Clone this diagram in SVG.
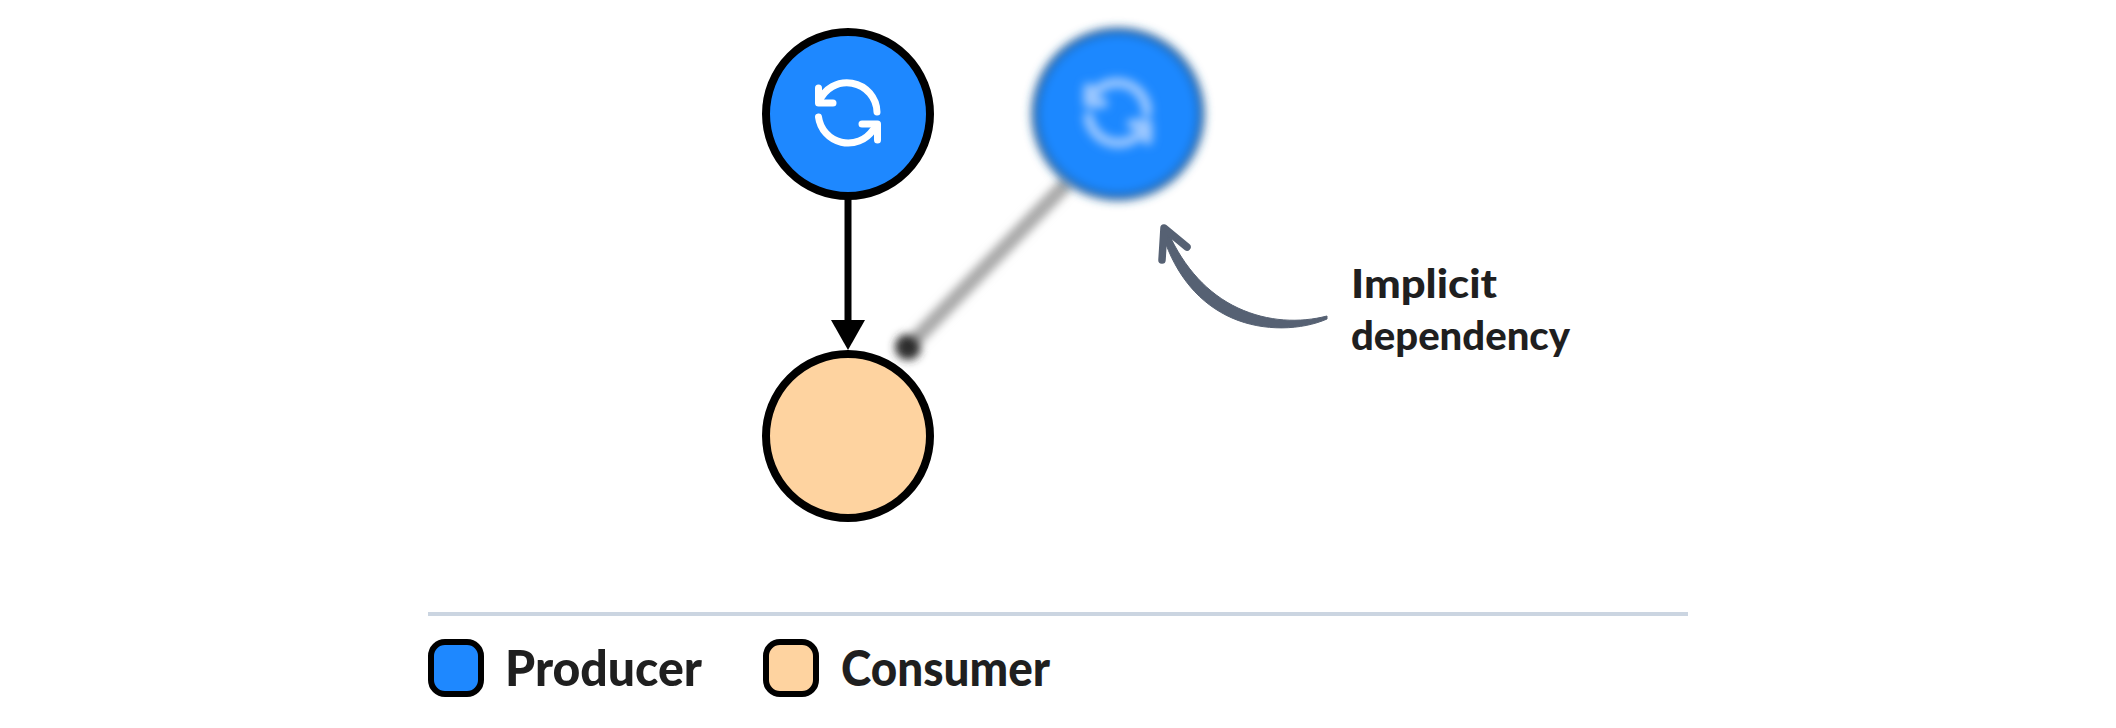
<svg xmlns="http://www.w3.org/2000/svg" width="2116" height="728" viewBox="0 0 2116 728">
<style>
.node{stroke:#000;stroke-width:8}
.blue{fill:#1e88ff}
.peach{fill:#fed3a0}
.key{stroke:#000;stroke-width:6}
.lbl{font-family:"Lato","Noto Sans","Liberation Sans",sans-serif;font-weight:900;fill:#1f1f1f}
.icon{fill:none;stroke:#fff;stroke-width:7;stroke-linecap:round;stroke-linejoin:round}
.ghost{fill:none;stroke:#9cc8ff;stroke-width:10;stroke-linecap:round;stroke-linejoin:round}
</style>
<defs>
<filter id="blur" x="-30%" y="-30%" width="160%" height="160%"><feGaussianBlur stdDeviation="5"/></filter>
<filter id="blurIcon" filterUnits="userSpaceOnUse" x="1050" y="50" width="140" height="130"><feGaussianBlur stdDeviation="5"/></filter>
<filter id="blurLine" filterUnits="userSpaceOnUse" x="870" y="150" width="230" height="230"><feGaussianBlur stdDeviation="4"/></filter>
<g id="refresh"><path class="icon" d="M819 102A30 30 0 0 1 877 112"/><path class="icon" d="M818.500 117A30 30 0 0 0 873 130"/><path class="icon" d="M818.500 88V103H833"/><path class="icon" d="M877.500 140V124H862"/></g>
</defs>
<g id="connectors">
<path d="M848 198V322" stroke="#000" stroke-width="7" fill="none"/>
<path d="M831 320H865L848 350Z" fill="#000"/>
<g filter="url(#blurLine)">
<path d="M1068 182L908 347" stroke="#aaa" stroke-width="15" fill="none"/>
<circle cx="908" cy="347" r="13" fill="#2f2f2f"/>
</g>
<path d="M1327 316C1300 323 1268 322 1238 308C1208 294 1184 268 1168 232L1163 236C1176 276 1200 304 1232 318C1264 332 1302 330 1327 319Z" fill="#566173" stroke="#566173" stroke-width="1" stroke-linejoin="round"/>
<path d="M1162 260L1164 228L1187 247" fill="none" stroke="#566173" stroke-width="7.500" stroke-linecap="round" stroke-linejoin="round"/>
</g>
<g id="producer"><circle class="node blue" cx="848" cy="114" r="82"/><use href="#refresh"/></g>
<g id="producer-blurred"><circle cx="1118" cy="114" r="83" fill="#1e88ff" stroke="#23609f" stroke-width="7" filter="url(#blur)"/><g filter="url(#blurIcon)"><path class="ghost" d="M1089 102A30 30 0 0 1 1147 112M1088.500 117A30 30 0 0 0 1143 130M1088.500 88V103H1103M1147.500 140V124H1132"/></g></g>
<g id="consumer"><circle class="node peach" cx="848" cy="436" r="82"/></g>
<g id="annotation"><text class="lbl" font-size="40" x="1351" y="298" textLength="146" lengthAdjust="spacingAndGlyphs">Implicit</text><text class="lbl" font-size="40" x="1351" y="350" textLength="219" lengthAdjust="spacingAndGlyphs">dependency</text></g>
<g id="legend">
<path d="M428 614H1688" stroke="#cbd5e1" stroke-width="4" fill="none"/>
<rect class="blue key" x="431" y="642" width="50" height="52" rx="14"/>
<text class="lbl" font-size="50" x="505" y="686" textLength="197" lengthAdjust="spacingAndGlyphs">Producer</text>
<rect class="peach key" x="766" y="642" width="50" height="52" rx="14"/>
<text class="lbl" font-size="50" x="841" y="686" textLength="209" lengthAdjust="spacingAndGlyphs">Consumer</text>
</g>
</svg>
